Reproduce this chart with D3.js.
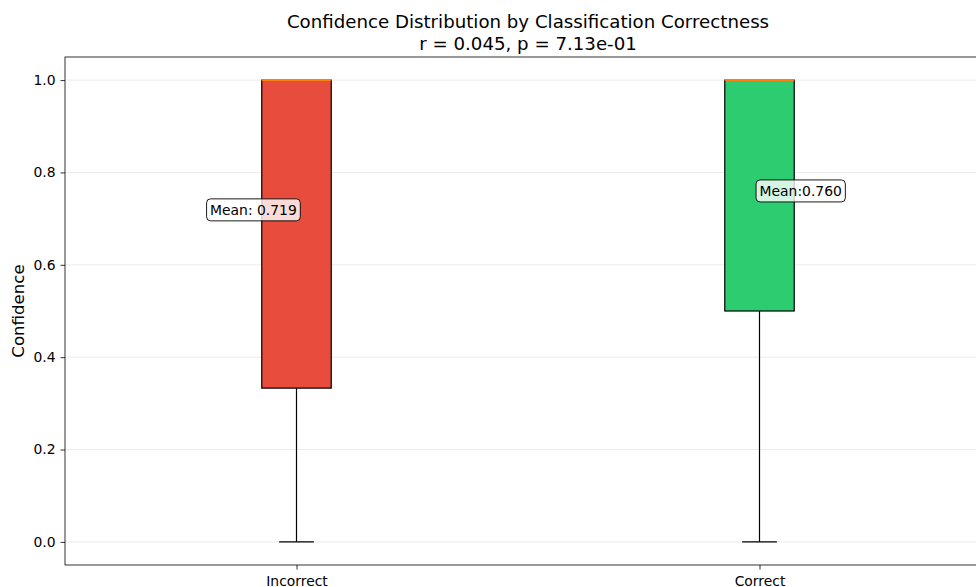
<!DOCTYPE html>
<html>
<head>
<meta charset="utf-8">
<script src="https://cdn.jsdelivr.net/npm/d3@7"></script>
<style>
  html, body { margin: 0; padding: 0; background: #fff; overflow: hidden; }
  svg { display: block; font-family: "DejaVu Sans", sans-serif; }
</style>
</head>
<body>
<svg id="chart" width="976" height="587"></svg>
<script>
// Box statistics per classification outcome
const categories = ["Incorrect", "Correct"];
const whiskerLow = [0.0, 0.0];
const q1Values = [0.333, 0.5];
const medians = [1.0, 1.0];
const q3Values = [1.0, 1.0];
const whiskerHigh = [1.0, 1.0];
const means = [0.719, 0.760];
const meanLabels = ["Mean: 0.719", "Mean:0.760"];
const boxColors = ["#e74c3c", "#2ecc71"];
const yTicks = [0.0, 0.2, 0.4, 0.6, 0.8, 1.0];

const svg = d3.select("#chart");
const W = 976, H = 587;
const margin = { left: 65, top: 57, right: -15, bottom: 22 };
const plotRight = W - margin.right;   // axis extends slightly past the window
const plotBottom = H - margin.bottom;

const x = d3.scaleLinear().domain([0.5, 2.5]).range([margin.left, plotRight]);
const y = d3.scaleLinear().domain([-0.05, 1.05]).range([plotBottom, margin.top]);

// Grid lines
svg.append("g")
  .selectAll("line")
  .data(yTicks)
  .join("line")
  .attr("x1", margin.left).attr("x2", plotRight)
  .attr("y1", d => y(d)).attr("y2", d => y(d))
  .attr("stroke", "#b0b0b0").attr("stroke-opacity", 0.3).attr("stroke-width", 0.8);

const boxW = x(0.65) - x(0.5);
const capW = boxW / 2;

const data = categories.map((c, i) => ({
  name: c, pos: i + 1,
  lo: whiskerLow[i], q1: q1Values[i], med: medians[i], q3: q3Values[i], hi: whiskerHigh[i],
  mean: means[i], label: meanLabels[i], color: boxColors[i]
}));

const g = svg.append("g");
data.forEach(d => {
  const cx = x(d.pos);
  // whiskers
  g.append("line").attr("x1", cx).attr("x2", cx).attr("y1", y(d.lo)).attr("y2", y(d.q1))
    .attr("stroke", "#000").attr("stroke-width", 1.2);
  g.append("line").attr("x1", cx).attr("x2", cx).attr("y1", y(d.q3)).attr("y2", y(d.hi))
    .attr("stroke", "#000").attr("stroke-width", 1.2);
  g.append("line").attr("x1", cx - capW / 2).attr("x2", cx + capW / 2)
    .attr("y1", y(d.lo)).attr("y2", y(d.lo)).attr("stroke", "#000").attr("stroke-width", 1.2);
  g.append("line").attr("x1", cx - capW / 2).attr("x2", cx + capW / 2)
    .attr("y1", y(d.hi)).attr("y2", y(d.hi)).attr("stroke", "#000").attr("stroke-width", 1.2);
  // box
  g.append("rect")
    .attr("x", cx - boxW / 2).attr("width", boxW)
    .attr("y", y(d.q3)).attr("height", y(d.q1) - y(d.q3))
    .attr("fill", d.color).attr("stroke", "#000").attr("stroke-width", 1.2);
  // median
  g.append("line").attr("x1", cx - boxW / 2).attr("x2", cx + boxW / 2)
    .attr("y1", y(d.med)).attr("y2", y(d.med))
    .attr("stroke", "#ff7f0e").attr("stroke-width", 2);
});

// Mean annotations
const offsets = [-0.093, 0.089];
data.forEach((d, i) => {
  const tx = x(d.pos + offsets[i]);
  const ty = y(d.mean);
  const lg = svg.append("g");
  const t = lg.append("text")
    .attr("x", tx).attr("y", ty)
    .attr("text-anchor", "middle").attr("dominant-baseline", "central")
    .attr("font-size", 13.9).attr("fill", "#000")
    .text(d.label);
  const bb = t.node().getBBox();
  lg.insert("rect", "text")
    .attr("x", bb.x - 3.5).attr("y", ty - 11)
    .attr("width", bb.width + 7).attr("height", 22)
    .attr("rx", 4).attr("ry", 4)
    .attr("fill", "#fff").attr("fill-opacity", 0.8)
    .attr("stroke", "#000").attr("stroke-width", 0.9);
});

// Axes
const yAxis = d3.axisLeft(y).tickValues(yTicks).tickFormat(d3.format(".1f")).tickSize(4.5).tickPadding(5);
const yg = svg.append("g").attr("transform", `translate(${margin.left},0)`).call(yAxis);
yg.select(".domain").remove();
yg.selectAll("text").attr("font-size", 13.9).attr("font-family", "DejaVu Sans, sans-serif").attr("fill", "#000");
yg.selectAll("line").attr("stroke", "#000").attr("stroke-width", 0.8);

const xAxis = d3.axisBottom(x).tickValues([1, 2]).tickFormat((d, i) => categories[i]).tickSize(4.5).tickPadding(7);
const xg = svg.append("g").attr("transform", `translate(0,${plotBottom})`).call(xAxis);
xg.select(".domain").remove();
xg.selectAll("text").attr("font-size", 13.9).attr("font-family", "DejaVu Sans, sans-serif").attr("fill", "#000");
xg.selectAll("line").attr("stroke", "#000").attr("stroke-width", 0.8);

// Spines
svg.append("rect")
  .attr("x", margin.left).attr("y", margin.top)
  .attr("width", plotRight - margin.left).attr("height", plotBottom - margin.top)
  .attr("fill", "none").attr("stroke", "#000").attr("stroke-width", 0.8);

// Titles
const cxTitle = (margin.left + plotRight) / 2;
svg.append("text").attr("x", cxTitle).attr("y", 28).attr("text-anchor", "middle")
  .attr("font-size", 18.2).attr("fill", "#000")
  .text("Confidence Distribution by Classification Correctness");
svg.append("text").attr("x", cxTitle).attr("y", 50).attr("text-anchor", "middle")
  .attr("font-size", 18.2).attr("fill", "#000")
  .text("r = 0.045, p = 7.13e-01");

svg.append("text")
  .attr("transform", `translate(24,${(margin.top + plotBottom) / 2}) rotate(-90)`)
  .attr("text-anchor", "middle")
  .attr("font-size", 16.6).attr("fill", "#000")
  .text("Confidence");
</script>
</body>
</html>
